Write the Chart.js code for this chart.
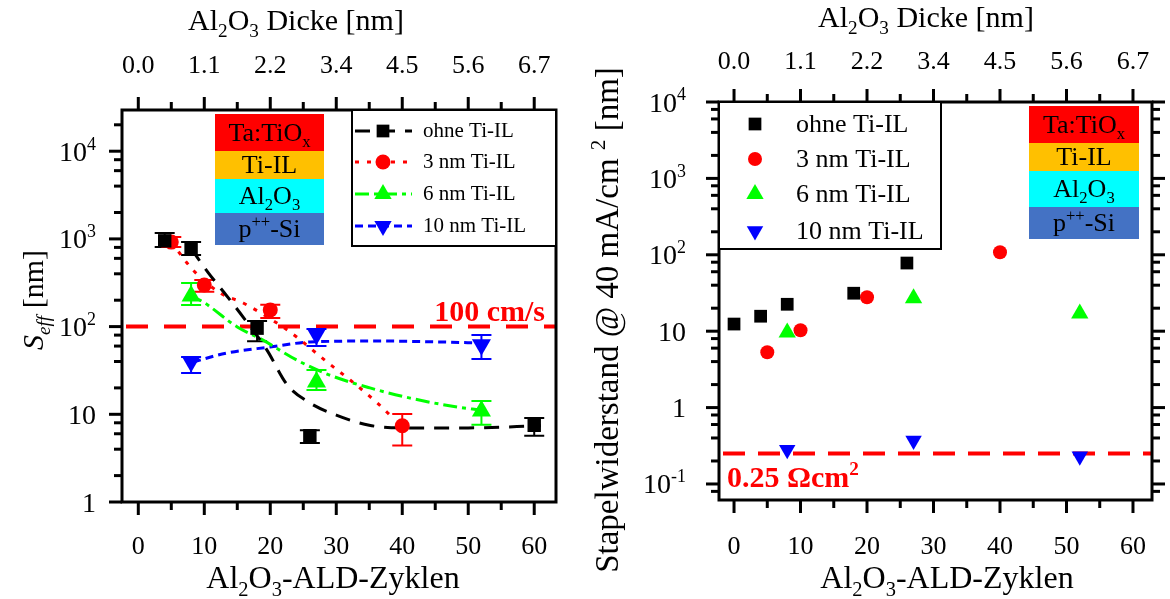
<!DOCTYPE html>
<html>
<head>
<meta charset="utf-8">
<script src="https://cdn.jsdelivr.net/npm/chart.js@4.4.1/dist/chart.umd.min.js"></script>
<style>
  html, body { margin: 0; padding: 0; background: #fff; }
  #wrap { position: relative; width: 1170px; height: 599px; }
  #wrap canvas { position: absolute; top: 0; }
</style>
</head>
<body>
<div id="wrap">
  <canvas id="seffChart" width="585" height="599" style="left:0"></canvas>
  <canvas id="resChart" width="585" height="599" style="left:585px"></canvas>
</div>
<script>
// axis ticks / labels
const cyclesTicks = [0, 10, 20, 30, 40, 50, 60];
const cyclesMinor = [5, 15, 25, 35, 45, 55];
const dickeLabels = ['0.0', '1.1', '2.2', '3.4', '4.5', '5.6', '6.7'];
const seffTicks = [1, 10, 100, 1000, 10000];
const seffTickLabels = ['1', '10', '10^{2}', '10^{3}', '10^{4}'];
const resTicks = [0.1, 1, 10, 100, 1000, 10000];
const resTickLabels = ['10^{-1}', '1', '10', '10^{2}', '10^{3}', '10^{4}'];
const logMinor = [2, 4, 6, 8];

const seriesNames = ['ohne Ti-IL', '3 nm Ti-IL', '6 nm Ti-IL', '10 nm Ti-IL'];
const layerNames = ['Ta:TiO_{x}', 'Ti-IL', 'Al_{2}O_{3}', 'p^{++}-Si'];
const layerColors = ['#ff0000', '#ffc000', '#00ffff', '#4472c4'];

// left panel: S_eff [nm] with error bars
const seffOhneX = [4, 8, 18, 26, 60];
const seffOhneY = [950, 790, 96, 5.7, 7.5];
const seffOhneLo = [810, 655, 68, 4.7, 5.7];
const seffOhneHi = [1170, 920, 116, 6.6, 9.1];

const seff3nmX = [5, 10, 20, 40];
const seff3nmY = [920, 298, 155, 7.4];
const seff3nmLo = [810, 250, 125, 4.4];
const seff3nmHi = [1050, 340, 177, 10.1];

const seff6nmX = [8, 27, 52];
const seff6nmY = [224, 23.4, 10.9];
const seff6nmLo = [176, 18.9, 7.6];
const seff6nmHi = [314, 32, 14.2];

const seff10nmX = [8, 27, 52];
const seff10nmY = [40, 82, 62];
const seff10nmLo = [29.6, 60, 42.7];
const seff10nmHi = [45, 94, 80];

// fitted curves
const fitOhneX = [8, 10.5, 13, 16, 19.5, 22.5, 26, 30, 35, 40, 50, 61];
const fitOhneY = [780, 420, 245, 125, 54, 22, 13.5, 9.8, 7.5, 7.0, 7.0, 7.4];
const fit3nmX = [5, 8.3, 12.4, 15.9, 21.9, 24, 28.6, 32.1, 36.2, 38.5];
const fit3nmY = [920, 442, 242, 186, 99, 76, 39.5, 24.6, 13.5, 9.2];
const fit6nmX = [7.6, 9.3, 15, 18.9, 24, 29, 35.1, 41.2, 48.3, 51.8];
const fit6nmY = [223, 201, 99, 70, 41.6, 28, 20, 15.3, 12.1, 11.2];
const fit10nmX = [8.3, 13.4, 20, 26, 36.1, 46.1, 51.8];
const fit10nmY = [39.5, 50, 58.5, 66.7, 68.5, 66.7, 65];

const seffRef = 100;

// right panel: Stapelwiderstand
const resOhneX = [0, 4, 8, 18, 26];
const resOhneY = [12.4, 15.7, 22.5, 31.4, 78];
const res3nmX = [5, 10, 20, 40];
const res3nmY = [5.3, 10.3, 27.8, 108];
const res6nmX = [8, 27, 52];
const res6nmY = [9.6, 27, 17];
const res10nmX = [8, 27, 52];
const res10nmY = [0.28, 0.37, 0.23];

const resRef = 0.25;

const FONT = '"Liberation Serif", "Times New Roman", serif';
const pts = (xs, ys) => xs.map((x, i) => ({ x: x, y: ys[i] }));

function parseRich(str) {
  const out = [];
  const re = /([_^])\{([^}]*)\}/g;
  let last = 0, m;
  while ((m = re.exec(str))) {
    if (m.index > last) out.push([str.slice(last, m.index), 0]);
    out.push([m[2], m[1] === '^' ? 1 : -1]);
    last = re.lastIndex;
  }
  if (last < str.length) out.push([str.slice(last), 0]);
  return out;
}

// draw text with sub/superscripts, y is the baseline
function drawRich(ctx, parts, x, y, size, align, color, weight) {
  if (typeof parts === 'string') parts = parseRich(parts);
  ctx.save();
  ctx.fillStyle = color || '#000';
  ctx.textBaseline = 'alphabetic';
  ctx.textAlign = 'left';
  const segs = parts.map(p => {
    const fs = p[1] ? size * 0.64 : size;
    const font = (p[2] || '') + ' ' + (weight || 'normal') + ' ' + fs + 'px ' + FONT;
    ctx.font = font;
    const dy = p[1] === 1 ? -size * 0.4 : (p[1] === -1 ? size * 0.24 : 0);
    return { t: p[0], font: font, dy: dy, w: ctx.measureText(p[0]).width };
  });
  const total = segs.reduce((a, s) => a + s.w, 0);
  let cx = align === 'center' ? x - total / 2 : (align === 'right' ? x - total : x);
  segs.forEach(s => {
    ctx.font = s.font;
    ctx.fillText(s.t, cx, y + s.dy);
    cx += s.w;
  });
  ctx.restore();
  return total;
}

function drawMarker(ctx, style, r, x, y, color, rot) {
  ctx.save();
  ctx.fillStyle = color;
  ctx.beginPath();
  if (style === 'rect') {
    const s = Math.SQRT1_2 * r;
    ctx.rect(x - s, y - s, 2 * s, 2 * s);
  } else if (style === 'circle') {
    ctx.arc(x, y, r, 0, Math.PI * 2);
  } else {
    let a = (rot || 0) * Math.PI / 180;
    ctx.moveTo(x + Math.sin(a) * r, y - Math.cos(a) * r);
    a += 2 * Math.PI / 3;
    ctx.lineTo(x + Math.sin(a) * r, y - Math.cos(a) * r);
    a += 2 * Math.PI / 3;
    ctx.lineTo(x + Math.sin(a) * r, y - Math.cos(a) * r);
    ctx.closePath();
  }
  ctx.fill();
  ctx.restore();
}

const deco = {
  id: 'deco',
  beforeDatasetsDraw(chart, args, o) {
    const ctx = chart.ctx, xs = chart.scales.x, ys = chart.scales.y, a = chart.chartArea;
    // reference line
    ctx.save();
    ctx.strokeStyle = '#ff0000';
    ctx.lineWidth = 4;
    ctx.setLineDash(o.refDash);
    const ry = ys.getPixelForValue(o.ref);
    ctx.beginPath();
    ctx.moveTo(a.left + 4, ry);
    ctx.lineTo(a.right, ry);
    ctx.stroke();
    ctx.restore();
    // error bars
    chart.data.datasets.forEach(ds => {
      if (!ds.errLo) return;
      ctx.save();
      ctx.strokeStyle = ds.borderColor;
      ctx.lineWidth = 2;
      ds.data.forEach((p, i) => {
        const px = xs.getPixelForValue(p.x);
        const y1 = ys.getPixelForValue(ds.errLo[i]);
        const y2 = ys.getPixelForValue(ds.errHi[i]);
        ctx.beginPath();
        ctx.moveTo(px, y1); ctx.lineTo(px, y2);
        ctx.moveTo(px - 10, y1); ctx.lineTo(px + 10, y1);
        ctx.moveTo(px - 10, y2); ctx.lineTo(px + 10, y2);
        ctx.stroke();
      });
      ctx.restore();
    });
  },
  afterDraw(chart, args, o) {
    const ctx = chart.ctx, xs = chart.scales.x, ys = chart.scales.y, a = chart.chartArea;
    ctx.save();
    ctx.strokeStyle = '#000';
    ctx.lineWidth = 3;
    const tick = (x1, y1, x2, y2) => { ctx.beginPath(); ctx.moveTo(x1, y1); ctx.lineTo(x2, y2); ctx.stroke(); };
    cyclesTicks.forEach(v => {
      const px = xs.getPixelForValue(v);
      tick(px, a.bottom, px, a.bottom + 13);
      tick(px, a.top, px, a.top - 13);
    });
    cyclesMinor.forEach(v => {
      const px = xs.getPixelForValue(v);
      tick(px, a.bottom, px, a.bottom + 8);
      tick(px, a.top, px, a.top - 8);
    });
    o.yTicks.forEach(v => {
      const py = ys.getPixelForValue(v);
      tick(a.left, py, a.left - 13, py);
      if (o.rightTicks) tick(a.right, py, a.right + 13, py);
    });
    [o.yTicks[0] / 10].concat(o.yTicks).forEach(dec => {
      logMinor.forEach(m => {
        const v = dec * m;
        if (v < ys.min || v > ys.max) return;
        const py = ys.getPixelForValue(v);
        tick(a.left, py, a.left - 8, py);
        if (o.rightTicks) tick(a.right, py, a.right + 8, py);
      });
    });
    ctx.lineWidth = 3;
    ctx.strokeRect(a.left, a.top, a.right - a.left, a.bottom - a.top);
    ctx.restore();

    // tick labels
    cyclesTicks.forEach((v, i) => {
      const px = xs.getPixelForValue(v);
      drawRich(ctx, String(v), px, o.bottomLabelY + 9, 26, 'center');
      drawRich(ctx, dickeLabels[i], px, o.topLabelY + 9, 26, 'center');
    });
    o.yTicks.forEach((v, i) => {
      const py = ys.getPixelForValue(v);
      drawRich(ctx, o.yLabels[i], a.left - o.yLabelGap, py + 9.5, 28, 'right');
    });

    // axis titles
    drawRich(ctx, 'Al_{2}O_{3} Dicke [nm]', o.topTitleX, o.topTitleY, 30, 'center');
    drawRich(ctx, 'Al_{2}O_{3}-ALD-Zyklen', o.bottomTitleX, o.bottomTitleY, 32, 'center');
    ctx.save();
    ctx.translate(o.yTitleX, o.yTitleY);
    ctx.rotate(-Math.PI / 2);
    drawRich(ctx, o.yTitle, 0, 10, o.yTitleSize, 'center');
    ctx.restore();

    // layer stack inset
    const L = o.inset;
    layerNames.forEach((name, i) => {
      ctx.fillStyle = layerColors[i];
      ctx.fillRect(L.x, L.rows[i], L.w, L.rows[i + 1] - L.rows[i]);
      const cy = (L.rows[i] + L.rows[i + 1]) / 2;
      drawRich(ctx, name, L.x + L.w / 2, cy + 8, 26, 'center');
    });

    // legend
    const G = o.legend;
    ctx.save();
    ctx.fillStyle = '#fff';
    ctx.fillRect(G.x1, G.y1, G.x2 - G.x1, G.y2 - G.y1);
    ctx.strokeStyle = '#000';
    ctx.lineWidth = 2;
    ctx.strokeRect(G.x1, G.y1, G.x2 - G.x1, G.y2 - G.y1);
    ctx.restore();
    G.items.forEach((it, i) => {
      const y = G.rows[i];
      if (it.dash) {
        ctx.save();
        ctx.strokeStyle = it.color;
        ctx.lineWidth = 3;
        ctx.setLineDash(it.dash);
        ctx.beginPath();
        ctx.moveTo(G.lineX[0], y);
        ctx.lineTo(G.lineX[1], y);
        ctx.stroke();
        ctx.restore();
      }
      drawMarker(ctx, it.style, it.r, G.markerX, y, it.color, it.rot);
      drawRich(ctx, seriesNames[i], G.textX, y + G.font * 0.3, G.font, 'left');
    });

    // reference label
    drawRich(ctx, o.refLabel, o.refLabelX, o.refLabelY, o.refLabelSize, o.refLabelAlign, '#ff0000', 'bold');
  }
};

function scalesFor(xMin, xMax, yMin, yMax, area, h) {
  const base = { grid: { display: false }, border: { display: false }, ticks: { display: false } };
  return {
    x: Object.assign({ type: 'linear', position: 'bottom', min: xMin, max: xMax,
      afterFit: s => { s.height = h - area.bottom; } }, base),
    xTop: Object.assign({ type: 'linear', position: 'top', min: xMin, max: xMax,
      afterFit: s => { s.height = area.top; } }, base),
    y: Object.assign({ type: 'logarithmic', min: yMin, max: yMax,
      afterFit: s => { s.width = area.left; } }, base)
  };
}

const black = '#000000', red = '#ff0000', green = '#00ff00', blue = '#0000ff';

function fitSet(xs, ys, color, dash) {
  return { data: pts(xs, ys), showLine: true, pointRadius: 0, borderColor: color, borderWidth: 3,
    borderDash: dash, cubicInterpolationMode: 'monotone', order: 2 };
}
function pointSet(xs, ys, color, style, r, rot, lo, hi) {
  return { data: pts(xs, ys), pointStyle: style, pointRadius: r, pointRotation: rot || 0,
    backgroundColor: color, borderColor: color, pointBorderWidth: 0, showLine: false,
    errLo: lo, errHi: hi, order: 1 };
}

const seffArea = { left: 122, top: 110, right: 556, bottom: 502 };
const seffCanvas = document.getElementById('seffChart');
if (seffCanvas) {
  new Chart(seffCanvas, {
    type: 'scatter',
    data: {
      datasets: [
        fitSet(fitOhneX, fitOhneY, black, [15, 10]),
        fitSet(fit3nmX, fit3nmY, red, [4, 8]),
        fitSet(fit6nmX, fit6nmY, green, [14, 5, 4, 5]),
        fitSet(fit10nmX, fit10nmY, blue, [8, 5]),
        pointSet(seffOhneX, seffOhneY, black, 'rect', 9.5, 0, seffOhneLo, seffOhneHi),
        pointSet(seff3nmX, seff3nmY, red, 'circle', 7.5, 0, seff3nmLo, seff3nmHi),
        pointSet(seff6nmX, seff6nmY, green, 'triangle', 11, 0, seff6nmLo, seff6nmHi),
        pointSet(seff10nmX, seff10nmY, blue, 'triangle', 11, 180, seff10nmLo, seff10nmHi)
      ]
    },
    options: {
      responsive: false, animation: false, devicePixelRatio: 1, events: [],
      layout: { padding: { left: 0, top: 0, bottom: 0, right: 585 - seffArea.right } },
      scales: scalesFor(-2.47, 63.3, 1, 29500, seffArea, 599),
      plugins: {
        legend: { display: false }, tooltip: { enabled: false },
        deco: {
          ref: seffRef, refDash: [22, 16],
          refLabel: '100 cm/s', refLabelX: 545, refLabelY: 321, refLabelSize: 30, refLabelAlign: 'right',
          yTicks: seffTicks, yLabels: seffTickLabels, yLabelGap: 26, rightTicks: false,
          bottomLabelY: 545, topLabelY: 64,
          topTitleX: 296, topTitleY: 30, bottomTitleX: 333, bottomTitleY: 588,
          yTitle: [['S', 0, 'italic'], ['eff', -1, 'italic'], [' [nm]', 0]], yTitleX: 33, yTitleY: 300, yTitleSize: 30,
          inset: { x: 215, w: 109, rows: [114, 151, 179, 213, 245] },
          legend: {
            x1: 352, y1: 110, x2: 556, y2: 246, rows: [131, 162, 194, 226],
            lineX: [355, 412], markerX: 383, textX: 423, font: 21,
            items: [
              { color: black, style: 'rect', r: 9, dash: [15, 10] },
              { color: red, style: 'circle', r: 7.5, dash: [4, 8] },
              { color: green, style: 'triangle', r: 10, dash: [14, 5, 4, 5] },
              { color: blue, style: 'triangle', r: 10, rot: 180, dash: [8, 5] }
            ]
          }
        }
      }
    },
    plugins: [deco]
  });
}

const resArea = { left: 134, top: 102, right: 567, bottom: 500 };
const resCanvas = document.getElementById('resChart');
if (resCanvas) {
  new Chart(resCanvas, {
    type: 'scatter',
    data: {
      datasets: [
        pointSet(resOhneX, resOhneY, black, 'rect', 9, 0),
        pointSet(res3nmX, res3nmY, red, 'circle', 7, 0),
        pointSet(res6nmX, res6nmY, green, 'triangle', 10, 0),
        pointSet(res10nmX, res10nmY, blue, 'triangle', 9.5, 180)
      ]
    },
    options: {
      responsive: false, animation: false, devicePixelRatio: 1, events: [],
      layout: { padding: { left: 0, top: 0, bottom: 0, right: 585 - resArea.right } },
      scales: scalesFor(-2.26, 62.86, 0.0617, 10000, resArea, 599),
      plugins: {
        legend: { display: false }, tooltip: { enabled: false },
        deco: {
          ref: resRef, refDash: [22, 13],
          refLabel: '0.25 Ωcm^{2}', refLabelX: 142, refLabelY: 487, refLabelSize: 30, refLabelAlign: 'left',
          yTicks: resTicks, yLabels: resTickLabels, yLabelGap: 33, rightTicks: true,
          bottomLabelY: 545, topLabelY: 60,
          topTitleX: 341, topTitleY: 27, bottomTitleX: 362, bottomTitleY: 588,
          yTitle: 'Stapelwiderstand @ 40 mA/cm ^{2} [nm]', yTitleX: 23, yTitleY: 320, yTitleSize: 33,
          inset: { x: 444, w: 110, rows: [106, 143, 171, 207, 239] },
          legend: {
            x1: 134, y1: 102, x2: 356, y2: 249, rows: [124, 159, 194, 231],
            lineX: [0, 0], markerX: 170, textX: 211, font: 26,
            items: [
              { color: black, style: 'rect', r: 9 },
              { color: red, style: 'circle', r: 7 },
              { color: green, style: 'triangle', r: 10 },
              { color: blue, style: 'triangle', r: 9.5, rot: 180 }
            ]
          }
        }
      }
    },
    plugins: [deco]
  });
}
</script>
</body>
</html>
